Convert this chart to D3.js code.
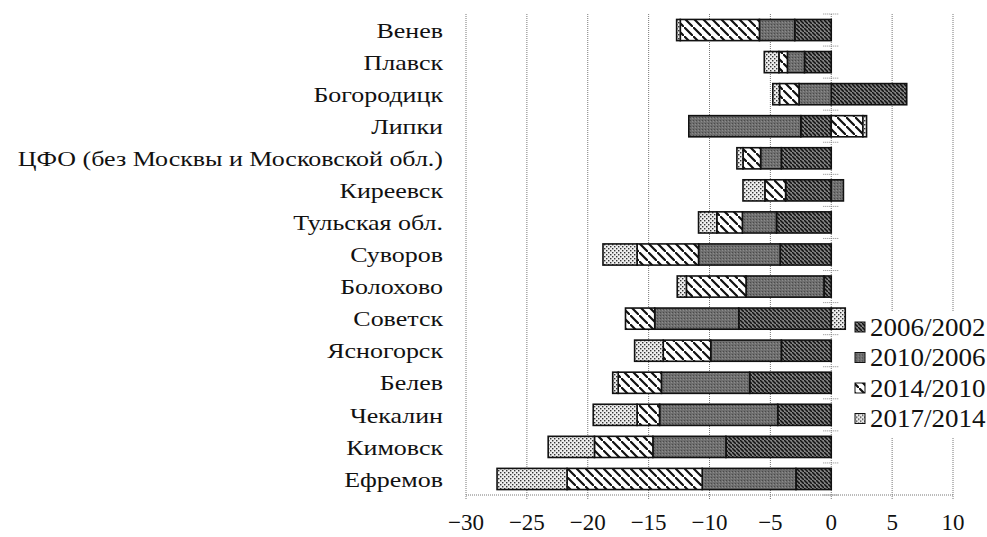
<!DOCTYPE html>
<html>
<head>
    <meta charset="utf-8">
    <title>Population change by town</title>
    <style>
        body { margin: 0; background: #fff; }
    </style>
    <script src="https://cdn.jsdelivr.net/npm/d3@7"></script>
</head>
<body>
<script>

    var view_width = 987,
        view_height = 537,
        serif = '"Liberation Serif", "Times New Roman", Times, "DejaVu Serif", serif'

    // data (top to bottom)
    var towns = ['Венев', 'Плавск', 'Богородицк', 'Липки', 'ЦФО (без Москвы и Московской обл.)',
        'Киреевск', 'Тульская обл.', 'Суворов', 'Болохово', 'Советск', 'Ясногорск',
        'Белев', 'Чекалин', 'Кимовск', 'Ефремов']
    var periods = ['2006/2002', '2010/2006', '2014/2010', '2017/2014']
    var v2006_2002 = [-3.0, -2.2, 6.2, -2.5, -4.1, -3.75, -4.5, -4.2, -0.6, -7.6, -4.1, -6.7, -4.4, -8.65, -2.9]
    var v2010_2006 = [-2.9, -1.4, -2.65, -9.2, -1.7, 1.0, -2.8, -6.7, -6.4, -6.9, -5.8, -7.25, -9.7, -6.0, -7.7]
    var v2014_2010 = [-6.5, -0.7, -1.6, 2.6, -1.45, -1.7, -2.1, -5.05, -4.9, -2.4, -3.9, -3.55, -1.85, -4.8, -11.1]
    var v2017_2014 = [-0.3, -1.2, -0.55, 0.3, -0.5, -1.8, -1.5, -2.8, -0.75, 1.15, -2.35, -0.45, -3.6, -3.8, -5.75]
    var xTicks = [-30, -25, -20, -15, -10, -5, 0, 5, 10]

    var rows = towns.map(function (t, i) {
        return {
            town: t,
            '2006/2002': v2006_2002[i],
            '2010/2006': v2010_2006[i],
            '2014/2010': v2014_2010[i],
            '2017/2014': v2017_2014[i]
        }
    })

    var svg = d3.select('body').append('svg')
        .attr('width', view_width)
        .attr('height', view_height)

    var defs = svg.append('defs')

    // dark hatch
    var p1 = defs.append('pattern').attr('id', 'pat0')
        .attr('patternUnits', 'userSpaceOnUse').attr('width', 4).attr('height', 4)
    p1.append('rect').attr('width', 4).attr('height', 4).attr('fill', '#808080')
    p1.append('path').attr('d', 'M-1,-1 l2,2 M0,0 l4,4 M3,3 l2,2')
        .attr('stroke', '#111').attr('stroke-width', 1.5)

    // gray grain
    var p2 = defs.append('pattern').attr('id', 'pat1')
        .attr('patternUnits', 'userSpaceOnUse').attr('width', 3).attr('height', 3)
    p2.append('rect').attr('width', 3).attr('height', 3).attr('fill', '#6f6f6f')
    p2.append('rect').attr('width', 1).attr('height', 1).attr('fill', '#4a4a4a')
    p2.append('rect').attr('x', 2).attr('y', 1).attr('width', 1).attr('height', 1).attr('fill', '#8c8c8c')

    // wide white hatch
    var p3 = defs.append('pattern').attr('id', 'pat2')
        .attr('patternUnits', 'userSpaceOnUse').attr('width', 9).attr('height', 9)
    p3.append('rect').attr('width', 9).attr('height', 9).attr('fill', '#fff')
    p3.append('path').attr('d', 'M-2,-2 l4,4 M0,0 l9,9 M7,7 l4,4')
        .attr('stroke', '#111').attr('stroke-width', 2.2)

    // dots
    var p4 = defs.append('pattern').attr('id', 'pat3')
        .attr('patternUnits', 'userSpaceOnUse').attr('width', 4).attr('height', 4)
    p4.append('rect').attr('width', 4).attr('height', 4).attr('fill', '#eeeeee')
    p4.append('rect').attr('x', 0).attr('y', 0).attr('width', 1.4).attr('height', 1.4).attr('fill', '#333')
    p4.append('rect').attr('x', 2).attr('y', 2).attr('width', 1.4).attr('height', 1.4).attr('fill', '#333')

    var x = d3.scaleLinear().domain([-30, 10]).range([466, 953])
    var y = d3.scaleBand().domain(towns).range([14, 495]).paddingInner(0.34).paddingOuter(0.17)

    // grid
    svg.append('g').selectAll('line').data(xTicks).enter().append('line')
        .attr('x1', function (d) { return x(d) })
        .attr('x2', function (d) { return x(d) })
        .attr('y1', 14).attr('y2', 499)
        .attr('stroke', '#777').attr('stroke-width', 1).attr('stroke-dasharray', '1,1')
    svg.append('line')
        .attr('x1', x(-30)).attr('x2', x(10)).attr('y1', 495).attr('y2', 495)
        .attr('stroke', '#777').attr('stroke-dasharray', '1,1')

    // small tick marks on the zero line
    svg.append('g').selectAll('line').data(towns.concat(['end'])).enter().append('line')
        .attr('x1', x(0) - 8).attr('x2', x(0) + 8)
        .attr('y1', function (d, i) { return i < towns.length ? y(d) - y.step() * y.paddingInner() / 2 : 495 })
        .attr('y2', function (d, i) { return i < towns.length ? y(d) - y.step() * y.paddingInner() / 2 : 495 })
        .attr('stroke', '#888').attr('stroke-dasharray', '1,1')

    var series = d3.stack().keys(periods).offset(d3.stackOffsetDiverging)(rows)

    svg.append('g').selectAll('g').data(series).enter().append('g')
        .attr('fill', function (d, i) { return 'url(#pat' + i + ')' })
        .selectAll('rect').data(function (d) { return d }).enter().append('rect')
        .attr('x', function (d) { return x(Math.min(d[0], d[1])) })
        .attr('width', function (d) { return Math.abs(x(d[1]) - x(d[0])) })
        .attr('y', function (d) { return y(d.data.town) })
        .attr('height', y.bandwidth())
        .attr('stroke', '#111').attr('stroke-width', 1.6)

    // category labels (the scan is a bit stretched sideways)
    svg.append('g').selectAll('text').data(towns).enter().append('text')
        .attr('transform', function (d) {
            return 'translate(443,' + (y(d) + y.bandwidth() / 2) + ') scale(1.18,1)'
        })
        .attr('dy', '0.35em')
        .attr('text-anchor', 'end')
        .attr('font-family', serif)
        .attr('font-size', 22)
        .attr('fill', '#111')
        .text(function (d) { return d })

    // x tick labels
    svg.append('g').selectAll('text').data(xTicks).enter().append('text')
        .attr('x', function (d) { return x(d) })
        .attr('y', 530)
        .attr('text-anchor', 'middle')
        .attr('font-family', serif)
        .attr('font-size', 23)
        .attr('fill', '#111')
        .text(function (d) { return d < 0 ? '\u2212' + Math.abs(d) : d })

    // legend
    var legend = svg.append('g').attr('transform', 'translate(850,311)')
    legend.append('rect').attr('width', 137).attr('height', 126).attr('fill', '#fff')
    var item = legend.selectAll('g').data(periods).enter().append('g')
        .attr('transform', function (d, i) { return 'translate(0,' + (16 + i * 30.5) + ')' })
    item.append('rect')
        .attr('x', 5).attr('y', -5).attr('width', 10).attr('height', 10)
        .attr('fill', function (d, i) { return 'url(#pat' + i + ')' })
        .attr('stroke', '#111').attr('stroke-width', 1)
    item.append('text')
        .attr('transform', 'translate(20,0) scale(1.08,1)')
        .attr('dy', '0.35em')
        .attr('font-family', serif)
        .attr('font-size', 25)
        .attr('fill', '#111')
        .text(function (d) { return d })

</script>
</body>
</html>
